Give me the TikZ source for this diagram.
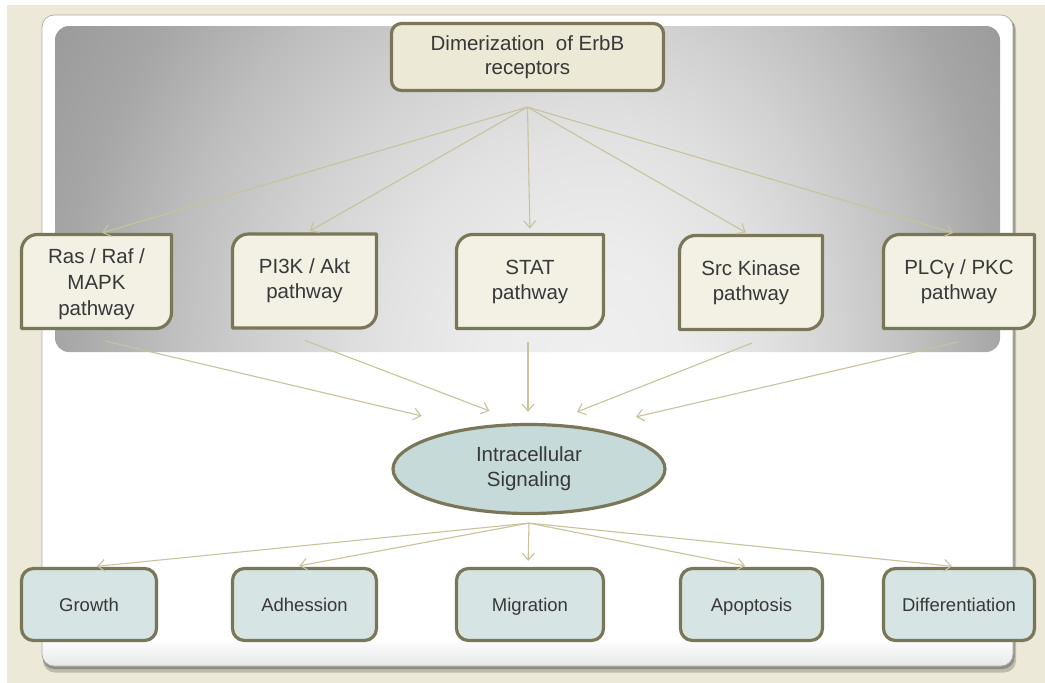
\documentclass[tikz,border=0pt]{standalone}
\usepackage{fontspec}
\setmainfont{Liberation Sans}
\usetikzlibrary{shapes.geometric,arrows.meta,calc}
\definecolor{beigebg}{HTML}{ECE9D8}
\definecolor{olive}{HTML}{7A7759}
\definecolor{topfill}{HTML}{ECE9D6}
\definecolor{pwfill}{HTML}{F3F1E4}
\definecolor{outfill}{HTML}{D7E4E4}
\definecolor{ellfill}{HTML}{C6DADA}
\definecolor{arrowc}{HTML}{C8C39B}
\definecolor{txt}{HTML}{383838}
\definecolor{panelline}{HTML}{ABABA5}
\definecolor{shadowa}{HTML}{8E8D85}
\definecolor{shadowb}{HTML}{BDBBAD}
\definecolor{g0}{HTML}{EFEFEF}
\definecolor{g1}{HTML}{ECECEC}
\definecolor{g2}{HTML}{E2E2E2}
\definecolor{g3}{HTML}{D2D2D2}
\definecolor{g4}{HTML}{BEBEBE}
\definecolor{g5}{HTML}{A6A6A6}
\definecolor{g6}{HTML}{999999}
\pgfdeclareradialshading{grayglow}{\pgfpoint{0bp}{0bp}}{color(0bp)=(g0); color(2.5bp)=(g1); color(5bp)=(g2); color(7.5bp)=(g3); color(10bp)=(g4); color(12.5bp)=(g5); color(15bp)=(g6); color(50bp)=(g6)}
\pgfdeclarelayer{back}
\pgfdeclarelayer{mid}
\pgfsetlayers{back,mid,main}
\tikzset{
  bigtxt/.style={font=\fontsize{20.5}{25}\selectfont, text=txt, align=center},
  topbox/.style={bigtxt, font=\fontsize{20.5}{24}\selectfont, draw=olive, line width=3.2pt, fill=topfill, rounded corners=10pt,
    minimum width=272pt, minimum height=67pt, inner sep=0pt},
  pwnode/.style={bigtxt, inner sep=0pt, outer sep=0pt, minimum height=94pt},
  pwshape/.style={draw=olive, line width=3.2pt, fill=pwfill, line join=round},
  ellnode/.style={bigtxt, ellipse, draw=olive, line width=3.2pt, fill=ellfill,
    minimum width=272pt, minimum height=89pt, inner sep=0pt},
  outbox/.style={font=\fontsize{18.5}{22}\selectfont, text=txt, draw=olive, line width=3.2pt,
    fill=outfill, rounded corners=12pt, minimum height=72pt, inner sep=0pt,
    text height=13.5pt, text depth=0pt},
  arr/.style={draw=arrowc, line width=1.1pt, -{Straight Barb[length=7pt,width=12pt]}},
}
\newcommand\pwdraw[1]{%
  \draw[pwshape] ($(#1.north west)+(0,16)$) .. controls ($(#1.north west)+(0,7.2)$) and ($(#1.north west)+(7.2,0)$) .. ($(#1.north west)+(16,0)$)
    -- (#1.north east) -- ($(#1.south east)+(0,-16)$)
    .. controls ($(#1.south east)+(0,-7.2)$) and ($(#1.south east)+(-7.2,0)$) .. ($(#1.south east)+(-16,0)$)
    -- (#1.south west) -- cycle;}
\begin{document}
\begin{tikzpicture}[x=1pt,y=-1pt]
\useasboundingbox (0,0) rectangle (1045,683);
\begin{pgfonlayer}{back}
  \fill[white] (0,0) rectangle (1045,683);
  \fill[beigebg] (7,5) rectangle (1045,682.5);
  \fill[shadowb, rounded corners=12pt] (43,18) rectangle (1016,672.5);
  \fill[shadowa, rounded corners=12pt] (42.5,16.5) rectangle (1014.5,669);
  \fill[white, rounded corners=12pt] (42,15) rectangle (1013,666);
  \begin{scope}
    \clip[rounded corners=12pt] (42,15) rectangle (1013,666);
    \shade[top color=white, bottom color=black!9] (42,638) rectangle (1013,666);
  \end{scope}
  \draw[panelline, line width=0.7pt, rounded corners=12pt] (42,15) rectangle (1013,666);
  % gray gradient area: left half
  \begin{scope}
    \clip[rounded corners=14pt] (55,26) rectangle (1000,352);
    \clip (50,20) rectangle (600.6,360);
    \shade[shading=grayglow] (-480,-760) rectangle (1680,1480);
  \end{scope}
  % right half
  \begin{scope}
    \clip[rounded corners=14pt] (55,26) rectangle (1000,352);
    \clip (600,20) rectangle (1005,360);
    \shade[shading=grayglow] (-200,-760) rectangle (1400,1480);
  \end{scope}
\end{pgfonlayer}

% top node
\node[topbox] (top) at (527.5,57) {Dimerization~ of ErbB\\receptors};

% pathway nodes
\node[pwnode, minimum width=150pt, font=\fontsize{20.5}{26}\selectfont] (ras) at (96.5,281.5) {\rule{0pt}{21pt}Ras / Raf /\\MAPK\\pathway};
\node[pwnode, minimum width=144pt] (pik)  at (304.5,281)  {PI3K / Akt\\pathway};
\node[pwnode, minimum width=147pt] (stat) at (530,281.5)  {STAT\\pathway};
\node[pwnode, minimum width=143pt] (src)  at (751,282.5)  {Src Kinase\\pathway};
\node[pwnode, minimum width=151pt] (plc)  at (959,281.5)  {PLCγ / PKC\\pathway};
\begin{pgfonlayer}{mid}
  \pwdraw{ras}\pwdraw{pik}\pwdraw{stat}\pwdraw{src}\pwdraw{plc}
\end{pgfonlayer}

% central ellipse
\node[ellnode] (ell) at (529,469) {Intracellular\\Signaling};

% outcome nodes
\node[outbox, minimum width=135pt] (gro) at (89,604.5)    {Growth};
\node[outbox, minimum width=144pt] (adh) at (304.5,604.5) {Adhession};
\node[outbox, minimum width=147pt] (mig) at (530,604.5)   {Migration};
\node[outbox, minimum width=142pt] (apo) at (751.5,604.5) {Apoptosis};
\node[outbox, minimum width=151pt] (dif) at (959,604.5)   {Differentiation};

% fan from top node
\coordinate (fanA) at ([yshift=-15pt]top.south);
\foreach \n in {ras,pik,stat,src,plc}
  \draw[arr, shorten >=6pt] (fanA) -- (\n.north);

% pathways to ellipse
\draw[arr] ([shift={(8.5,12.5)}]ras.south) -- ([shift={(-107.5,-7)}]ell.north);
\draw[arr] ([shift={(0.5,12.5)}]pik.south) -- ([shift={(-39.5,-12)}]ell.north);
\draw[arr] ([shift={(-2,13.5)}]stat.south) -- ([shift={(-1,-11)}]ell.north);
\draw[arr] ([shift={(1,13.5)}]src.south)   -- ([shift={(48,-11)}]ell.north);
\draw[arr] ([shift={(-1,13.5)}]plc.south)  -- ([shift={(107,-6)}]ell.north);

% fan from ellipse
\coordinate (fanB) at ([yshift=-8pt]ell.south);
\draw[arr, shorten >=6pt] (fanB) -- ([xshift=2pt]gro.north);
\draw[arr, shorten >=6pt] (fanB) -- ([xshift=-11pt]adh.north);
\draw[arr, shorten >=6pt] (fanB) -- ([xshift=-2pt]mig.north);
\draw[arr, shorten >=5pt] (fanB) -- ([xshift=-1.5pt]apo.north);
\draw[arr, shorten >=6pt] (fanB) -- ([xshift=-1pt]dif.north);
\end{tikzpicture}
\end{document}
